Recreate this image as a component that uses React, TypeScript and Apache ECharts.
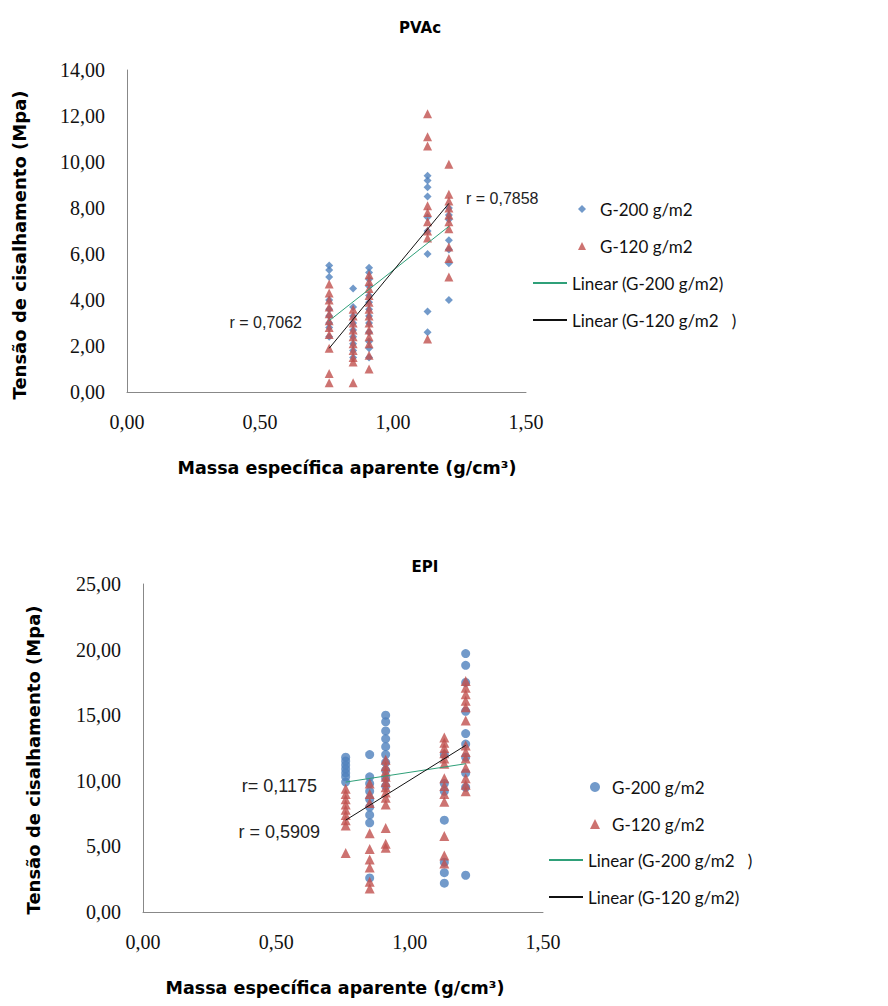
import React, { useEffect, useRef } from "react";
import * as echarts from "echarts";

// x positions (massa específica aparente) of the sample groups
const pvacX = [0.76, 0.85, 0.91, 1.13, 1.21];
const epiX = [0.76, 0.85, 0.91, 1.13, 1.21];

// PVAc – G-200 g/m2 (one list of y values per x column)
const pvacG200 = [
  [5.5, 5.3, 5.0, 4.0, 3.6, 3.3, 3.0, 2.8, 2.4],
  [4.5, 3.7, 3.3, 3.0, 2.7, 2.4, 2.1, 1.8, 1.5],
  [5.4, 5.2, 4.9, 4.6, 4.2, 3.9, 3.6, 3.3, 3.0, 2.6, 2.2, 1.9, 1.5],
  [9.4, 9.2, 8.9, 8.5, 7.6, 7.0, 6.0, 3.5, 2.6],
  [8.0, 7.7, 7.5, 6.6, 6.2, 5.6, 4.0],
];
// PVAc – G-120 g/m2
const pvacG120 = [
  [4.7, 4.3, 4.0, 3.7, 3.4, 3.1, 2.8, 2.5, 1.9, 0.8, 0.4],
  [3.6, 3.3, 3.0, 2.7, 2.4, 2.1, 1.8, 1.5, 1.3, 0.4],
  [5.1, 4.8, 4.5, 4.2, 3.9, 3.6, 3.3, 3.0, 2.7, 2.4, 2.1, 1.6, 1.0],
  [12.1, 11.1, 10.7, 8.1, 7.8, 7.4, 7.0, 6.7, 2.3],
  [9.9, 8.6, 8.3, 8.0, 7.7, 7.4, 7.1, 6.3, 5.8, 5.0],
];
const pvacTrendG200 = [[0.76, 3.1], [1.21, 7.2]];
const pvacTrendG120 = [[0.76, 1.9], [1.21, 8.2]];

// EPI – G-200 g/m2
const epiG200 = [
  [11.8, 11.5, 11.2, 10.9, 10.6, 10.3, 9.9],
  [12.0, 10.3, 9.8, 9.2, 8.6, 8.0, 7.4, 6.8, 2.6],
  [15.0, 14.5, 13.8, 13.2, 12.6, 12.0, 11.4, 10.8, 10.2, 9.6],
  [12.0, 9.8, 9.2, 7.0, 3.8, 3.0, 2.2],
  [19.7, 18.8, 17.5, 15.3, 13.6, 12.8, 11.8, 10.6, 9.5, 2.8],
];
// EPI – G-120 g/m2
const epiG120 = [
  [9.4, 9.0, 8.6, 8.2, 7.8, 7.4, 7.0, 6.6, 4.5],
  [9.8, 9.0, 8.3, 6.0, 4.8, 4.0, 3.4, 2.3, 1.8],
  [11.6, 11.1, 10.7, 10.3, 9.9, 9.5, 9.1, 8.7, 8.2, 6.4, 5.2, 4.9],
  [13.3, 12.9, 12.5, 12.1, 11.7, 11.3, 10.2, 9.6, 9.0, 8.4, 5.8, 4.3, 3.7],
  [17.6, 17.1, 16.6, 16.1, 15.6, 14.6, 12.7, 12.2, 11.7, 11.0, 10.2, 9.7, 9.2],
];
const epiTrendG200 = [[0.76, 9.9], [1.21, 11.3]];
const epiTrendG120 = [[0.76, 7.0], [1.21, 12.7]];

const pvacLegend = ["G-200 g/m2", "G-120 g/m2", "Linear (G-200 g/m2)", "Linear (G-120 g/m2   )"];
const epiLegend = ["G-200 g/m2", "G-120 g/m2", "Linear (G-200 g/m2   )", "Linear (G-120 g/m2)"];

const BLUE = "#4F81BD";
const RED = "#C0504D";
const GREEN = "#2FA079";
const BLACK = "#111111";
const xName = "Massa específica aparente (g/cm³)";
const yName = "Tensão de cisalhamento (Mpa)";

const fmt = (v: number) => v.toFixed(2).replace(".", ",");
const toPoints = (xs: number[], cols: number[][]) =>
  cols.flatMap((ys, i) => ys.map((y) => [xs[i], y]));

const axisLabel = (margin: number) => ({
  formatter: fmt,
  fontFamily: "Liberation Serif",
  fontSize: 20,
  color: "#111",
  margin,
});

const legendText = (padLeft: number) => ({
  fontFamily: "Lato",
  fontSize: 17,
  color: "#111",
  lineHeight: 20,
  padding: [0, 0, 0, padLeft],
});

const hiddenSymbol = { color: "rgba(0,0,0,0)", borderColor: "rgba(0,0,0,0)", borderWidth: 0 };

function buildOption(cfg: any) {
  const titleStyle = {
    fontFamily: "DejaVu Sans",
    fontWeight: "bold",
    fill: "#000",
    align: "center",
    verticalAlign: "middle",
  };
  return {
    animation: false,
    grid: cfg.grid,
    xAxis: {
      type: "value",
      min: 0,
      max: 1.5,
      interval: 0.5,
      axisLine: { show: true, lineStyle: { color: "#888", width: 1 } },
      axisTick: { show: false },
      splitLine: { show: false },
      axisLabel: axisLabel(cfg.xMargin),
    },
    yAxis: {
      type: "value",
      min: 0,
      max: cfg.yMax,
      interval: cfg.yInterval,
      axisLine: { show: true, lineStyle: { color: "#888", width: 1 } },
      axisTick: { show: false },
      splitLine: { show: false },
      axisLabel: axisLabel(cfg.yMargin),
    },
    legend: [
      {
        orient: "vertical",
        left: cfg.legend.markerLeft,
        top: cfg.legend.markerTop,
        itemWidth: cfg.legend.iconH,
        itemHeight: cfg.legend.iconH,
        itemGap: 17,
        selectedMode: false,
        textStyle: legendText(cfg.legend.textPad),
        data: cfg.legend.names.slice(0, 2),
      },
      {
        orient: "vertical",
        left: cfg.legend.lineLeft,
        top: cfg.legend.lineTop,
        itemWidth: 34,
        itemHeight: 9,
        itemGap: 17,
        selectedMode: false,
        textStyle: legendText(0),
        data: cfg.legend.names.slice(2).map((n: string) => ({ name: n, itemStyle: hiddenSymbol })),
      },
    ],
    series: [
      {
        type: "scatter",
        name: cfg.legend.names[0],
        data: cfg.s1,
        symbol: cfg.sym1,
        symbolSize: cfg.size1,
        itemStyle: { color: BLUE },
      },
      {
        type: "scatter",
        name: cfg.legend.names[1],
        data: cfg.s2,
        symbol: "triangle",
        symbolSize: cfg.size2,
        itemStyle: { color: RED },
      },
      {
        type: "line",
        name: cfg.legend.names[2],
        data: cfg.t1,
        symbol: "none",
        lineStyle: { color: GREEN, width: 1 },
        itemStyle: { color: GREEN },
      },
      {
        type: "line",
        name: cfg.legend.names[3],
        data: cfg.t2,
        symbol: "none",
        lineStyle: { color: BLACK, width: 1 },
        itemStyle: { color: BLACK },
      },
    ],
    graphic: [
      {
        type: "text",
        x: cfg.title.x,
        y: cfg.title.y,
        style: { ...titleStyle, text: cfg.title.text, fontSize: 15 },
      },
      {
        type: "text",
        x: cfg.xNamePos[0],
        y: cfg.xNamePos[1],
        style: { ...titleStyle, text: xName, fontSize: 17.5 },
      },
      {
        type: "text",
        x: cfg.yNamePos[0],
        y: cfg.yNamePos[1],
        rotation: Math.PI / 2,
        style: { ...titleStyle, text: yName, fontSize: 18 },
      },
      ...cfg.rLabels.map((r: any) => ({
        type: "text",
        x: r.x,
        y: r.y,
        style: {
          text: r.text,
          fontFamily: "Liberation Sans",
          fontSize: cfg.rSize,
          fill: "#222",
          align: r.align,
          verticalAlign: "middle",
        },
      })),
    ],
  };
}

const pvacOption = buildOption({
  grid: { left: 127, top: 70, width: 399, height: 322 },
  yMax: 14,
  yInterval: 2,
  xMargin: 20,
  yMargin: 22,
  legend: {
    markerLeft: 573,
    markerTop: 194,
    lineLeft: 527,
    lineTop: 268,
    iconH: 8,
    textPad: 9,
    names: pvacLegend,
  },
  s1: toPoints(pvacX, pvacG200),
  s2: toPoints(pvacX, pvacG120),
  sym1: "diamond",
  size1: 8,
  size2: 9,
  t1: pvacTrendG200,
  t2: pvacTrendG120,
  title: { text: "PVAc", x: 420, y: 28 },
  xNamePos: [347, 468],
  yNamePos: [19, 245],
  rSize: 16,
  rLabels: [
    { text: "r = 0,7062", x: 302, y: 322, align: "right" },
    { text: "r = 0,7858", x: 466, y: 198, align: "left" },
  ],
});

const epiOption = buildOption({
  grid: { left: 143, top: 81, width: 400, height: 328 },
  yMax: 25,
  yInterval: 5,
  xMargin: 20,
  yMargin: 22,
  legend: {
    markerLeft: 585,
    markerTop: 269,
    lineLeft: 543,
    lineTop: 342,
    iconH: 10,
    textPad: 7,
    names: epiLegend,
  },
  s1: toPoints(epiX, epiG200),
  s2: toPoints(epiX, epiG120),
  sym1: "circle",
  size1: 9,
  size2: 10,
  t1: epiTrendG200,
  t2: epiTrendG120,
  title: { text: "EPI", x: 425, y: 64 },
  xNamePos: [335, 485],
  yNamePos: [33, 257],
  rSize: 18,
  rLabels: [
    { text: "r= 0,1175", x: 317, y: 283, align: "right" },
    { text: "r = 0,5909", x: 320, y: 329, align: "right" },
  ],
});

function Chart({ option, top }: { option: any; top: number }) {
  const ref = useRef<HTMLDivElement>(null);
  useEffect(() => {
    if (!ref.current) return;
    const chart = echarts.init(ref.current, undefined, { renderer: "svg" });
    chart.setOption(option);
    return () => chart.dispose();
  }, [option]);
  return (
    <div
      ref={ref}
      style={{ position: "absolute", left: 0, top, width: 888, height: 503 }}
    />
  );
}

export default function App() {
  return (
    <div style={{ position: "fixed", left: 0, top: 0, width: 888, height: 1006, background: "#fff" }}>
      <Chart option={pvacOption} top={0} />
      <Chart option={epiOption} top={503} />
    </div>
  );
}
